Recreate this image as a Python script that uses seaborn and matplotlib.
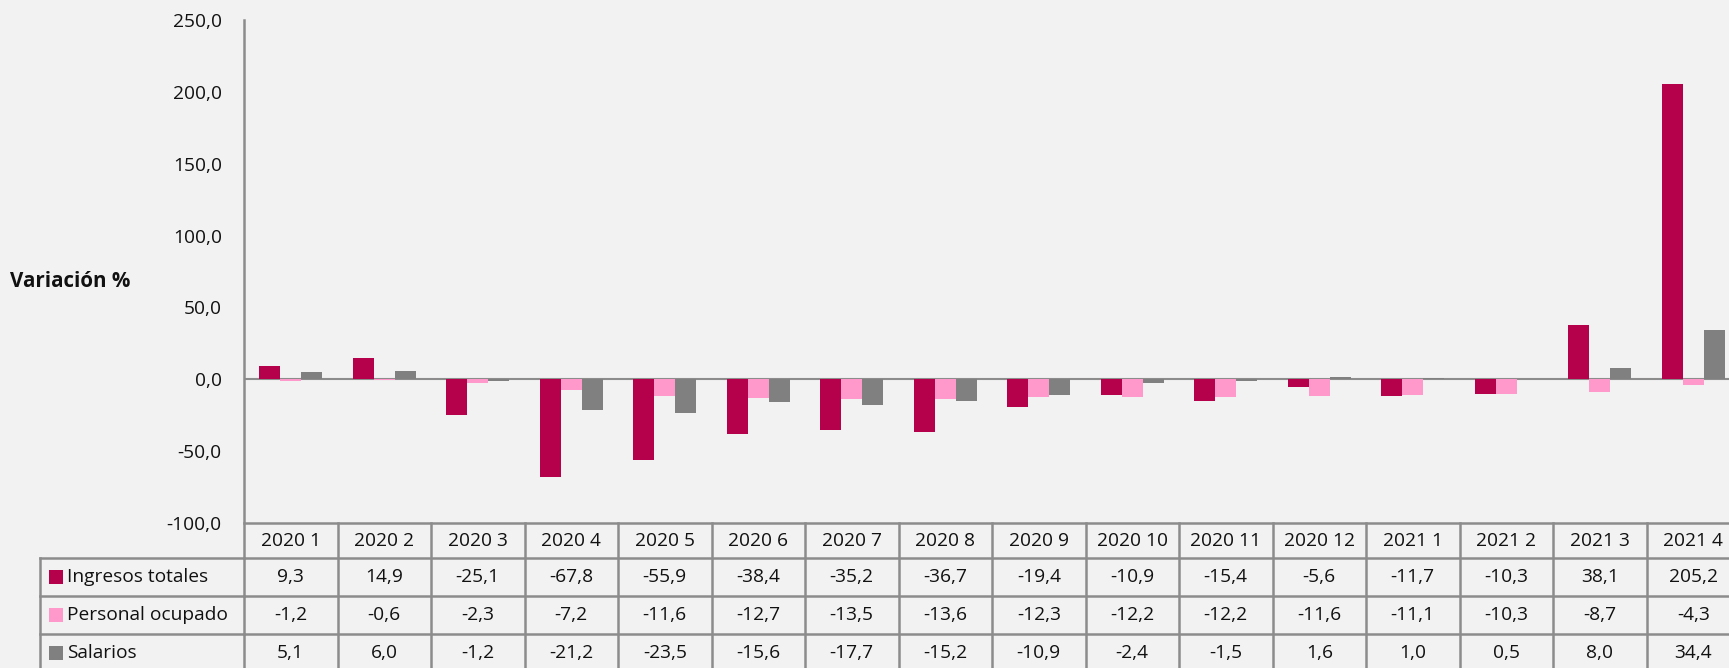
import pandas as pd
import seaborn as sns
import matplotlib.pyplot as plt
from matplotlib import transforms
from matplotlib.lines import Line2D
from matplotlib.patches import Rectangle

periodos = ["2020 1", "2020 2", "2020 3", "2020 4", "2020 5", "2020 6", "2020 7", "2020 8",
            "2020 9", "2020 10", "2020 11", "2020 12", "2021 1", "2021 2", "2021 3", "2021 4"]
ingresos = [9.3, 14.9, -25.1, -67.8, -55.9, -38.4, -35.2, -36.7, -19.4, -10.9, -15.4, -5.6, -11.7, -10.3, 38.1, 205.2]
personal = [-1.2, -0.6, -2.3, -7.2, -11.6, -12.7, -13.5, -13.6, -12.3, -12.2, -12.2, -11.6, -11.1, -10.3, -8.7, -4.3]
salarios = [5.1, 6.0, -1.2, -21.2, -23.5, -15.6, -17.7, -15.2, -10.9, -2.4, -1.5, 1.6, 1.0, 0.5, 8.0, 34.4]
series = ["Ingresos totales", "Personal ocupado", "Salarios"]
colores = ["#B5004B", "#FF99CC", "#808080"]

df = pd.DataFrame({
    "periodo": periodos * 3,
    "serie": [s for s in series for _ in periodos],
    "valor": ingresos + personal + salarios,
})

bg = "#F2F2F2"
linea = "#8C8C8C"
texto = "#111111"
fs = 13.8
plt.rcParams["font.family"] = ["Open Sans", "DejaVu Sans"]

W, H = 1729, 668
fig = plt.figure(figsize=(W / 100, H / 100), dpi=100, facecolor=bg)

def fx(px):
    return px / W

def fy(py):
    return 1 - py / H

ax = fig.add_axes([fx(244), fy(523), fx(1740 - 244), (523 - 20) / H])
ax.set_facecolor(bg)

sns.barplot(data=df, x="periodo", y="valor", hue="serie", order=periodos, hue_order=series,
            palette=colores, width=0.67, gap=0, saturation=1, legend=False, ax=ax, zorder=3)

ax.axhline(0, color=linea, lw=1.5, zorder=2)
ax.set_ylim(-100, 250)
ax.set_xlim(-0.5, len(periodos) - 0.5)
ax.set_yticks([-100, -50, 0, 50, 100, 150, 200, 250])
ax.set_yticklabels([f"{v:.1f}".replace(".", ",") for v in ax.get_yticks()], fontsize=fs, color=texto)
ax.tick_params(axis="y", length=0, pad=16)
ax.set_xticks([])
ax.set_xlabel("")
ax.set_ylabel("")
for s in ["top", "right", "bottom", "left"]:
    ax.spines[s].set_visible(False)

fig.text(fx(10), fy(282), "Variación %", fontsize=14.8, fontweight="bold", color=texto, va="center", ha="left")

# tabla de datos bajo el grafico
tr = transforms.blended_transform_factory(ax.transData, fig.transFigure)
filas = [523, 558, 596, 634, 672]
n = len(periodos)

def hline(x0, x1, y, t):
    fig.add_artist(Line2D([x0, x1], [y, y], transform=t, color=linea, lw=1.8, clip_on=False))

def vline(x, y0, y1, t):
    fig.add_artist(Line2D([x, x], [y0, y1], transform=t, color=linea, lw=1.8, clip_on=False))

hline(-0.5, n - 0.5, fy(523), tr)
for y in filas[1:]:
    hline(-0.5, n - 0.5, fy(y), tr)
    fig.add_artist(Line2D([fx(40), fx(244)], [fy(y), fy(y)], transform=fig.transFigure,
                          color=linea, lw=1.8))
vline(-0.5, fy(20), fy(672), tr)
for k in range(1, n + 1):
    vline(k - 0.5, fy(523), fy(672), tr)
vline(fx(40), fy(558), fy(672), fig.transFigure)

for i, p in enumerate(periodos):
    fig.text(i, fy((filas[0] + filas[1]) / 2), p, transform=tr, ha="center", va="center",
             fontsize=fs, color=texto)

valores = [ingresos, personal, salarios]
for r, (nombre, vals, c) in enumerate(zip(series, valores, colores)):
    yc = fy((filas[r + 1] + filas[r + 2]) / 2)
    fig.add_artist(Rectangle((fx(49), yc - 7 / H), 14 / W, 14 / H, transform=fig.transFigure,
                             facecolor=c, edgecolor="none"))
    fig.text(fx(67), yc, nombre, ha="left", va="center", fontsize=fs, color=texto)
    for i, v in enumerate(vals):
        fig.text(i, yc, f"{v:.1f}".replace(".", ","), transform=tr, ha="center", va="center",
                 fontsize=fs, color=texto)

fig.savefig("out.png", dpi=100, facecolor=bg)
